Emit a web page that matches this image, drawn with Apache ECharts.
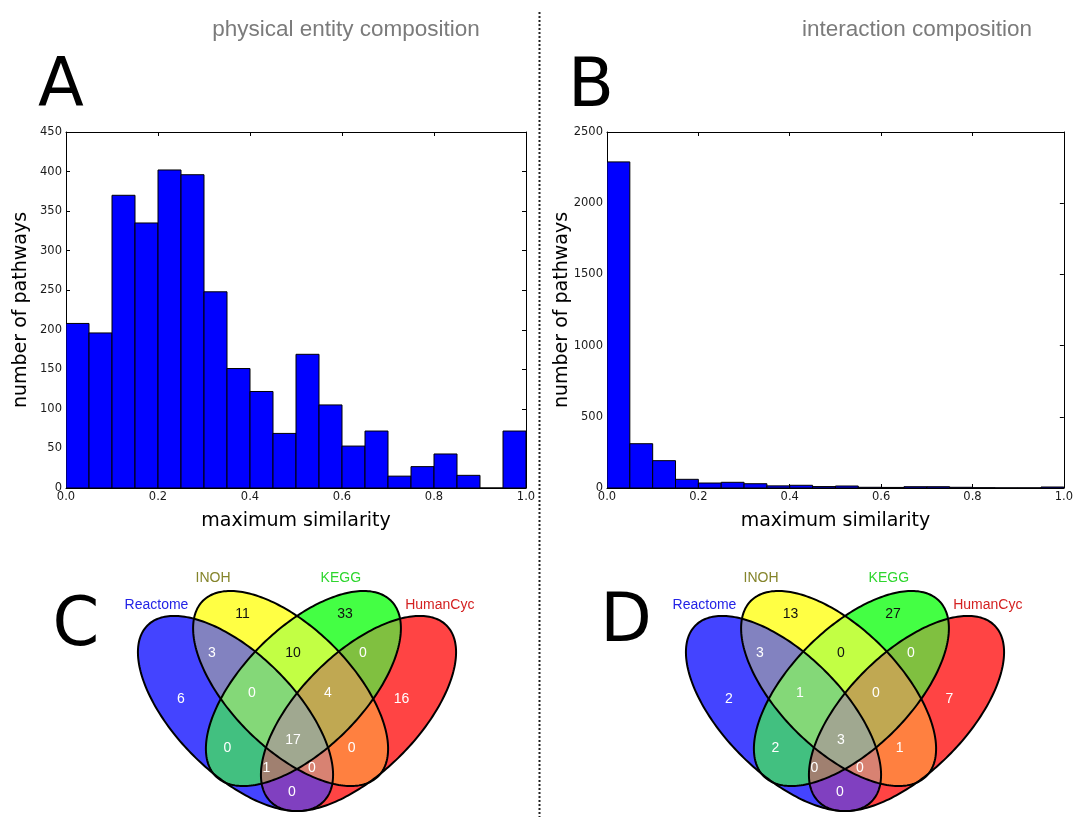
<!DOCTYPE html>
<html><head><meta charset="utf-8">
<script src="https://cdn.jsdelivr.net/npm/echarts@6/dist/echarts.min.js"></script>
<style>html,body{margin:0;padding:0;background:#fff}#c{width:1076px;height:817px}</style>
</head><body><div id="c"></div>
<script>
// ---------------- data ----------------
const binStarts = [0.00,0.05,0.10,0.15,0.20,0.25,0.30,0.35,0.40,0.45,0.50,0.55,0.60,0.65,0.70,0.75,0.80,0.85,0.90,0.95];
const binWidth = 0.05;
const physicalCounts = [208,196,370,335,402,396,248,151,122,69,169,105,53,72,15,27,43,16,0,72];
const interactionCounts = [2290,311,192,61,35,40,30,15,19,10,14,5,4,9,9,5,2,1,1,7];
const xTickValues = [0.0,0.2,0.4,0.6,0.8,1.0];
const yMaxA = 450, yStepA = 50;
const yMaxB = 2500, yStepB = 500;

const setNames = ['Reactome','INOH','KEGG','HumanCyc'];
// region masks: Reactome=1, INOH=2, KEGG=4, HumanCyc=8
const regionMasks = [1,2,4,8,3,6,12,9,5,10,7,14,11,13,15];
const countsC = [6,11,33,16,3,10,0,0,0,0,0,4,0,1,17];
const countsD = [2,13,27,7,3,0,0,0,2,1,1,0,0,0,3];

const titles = ['physical entity composition','interaction composition'];
const panelLetters = ['A','B','C','D'];

// ---------------- styling / layout ----------------
const FONT = 'DejaVu Sans';
const setLabelColors = ['#2323e6','#84842a','#2ed62e','#d42121'];
const regionColors = {
  1:'#4444ff', 2:'#ffff44', 4:'#44ff44', 8:'#ff4444',
  3:'#8282c0', 6:'#c2ff44', 12:'#80c040', 9:'#8040c0', 5:'#42c080', 10:'#ff8040',
  7:'#84d878', 14:'#c0a852', 11:'#d88272', 13:'#a08070', 15:'#a0a890'
};
const darkTextMasks = [2,4,6];
// ellipse geometry in local pixel units (y down), s = direction of major axis (1,s)
const ellipseGeom = [
  {cx:-61.5, cy:0.5,  a:124.5, b:59.5, s: 1},
  {cx:-6.4,  cy:-24.5, a:124,  b:60.3, s: 1},
  {cx: 6.4,  cy:-24.5, a:124,  b:60.3, s:-1},
  {cx: 61.5, cy:0.5,  a:124.5, b:59.5, s:-1}
];
const regionLabelPos = {
  1:[-116,-13.7], 2:[-54.5,-98.7], 4:[48,-98.7], 8:[104.5,-13.7],
  3:[-85,-60.3], 6:[-4,-60.3], 12:[66,-60.3], 9:[-5,79.3], 5:[-69.6,35.3], 10:[54.6,35.3],
  7:[-45.2,-19.7], 14:[31,-19.7], 11:[14.8,55.3], 13:[-30.5,55.3], 15:[-4,27]
};
const setLabelPos = [[-140.5,-108],[-84,-134.7],[43.8,-134.7],[142.8,-108]];

function coefs(e){
  const ia = 1/(e.a*e.a), ib = 1/(e.b*e.b);
  return {A:(ia+ib)/2, B:(ia-ib)/2};
}
function inside(e,x,y){
  const {A,B} = coefs(e);
  const dx = x-e.cx, dy = y-e.cy;
  return A*dx*dx + 2*e.s*B*dx*dy + A*dy*dy <= 1;
}
function rowInterval(e,y){
  const {A,B} = coefs(e);
  const dy = y-e.cy;
  const disc = B*B*dy*dy - A*(A*dy*dy-1);
  if (disc <= 0) return null;
  const r = Math.sqrt(disc), m = -e.s*B*dy;
  return [e.cx+(m-r)/A, e.cx+(m+r)/A];
}
function buildRuns(){
  const runs = [];
  for (let y=-150; y<104; y++){
    const yc = y+0.5, pts = [];
    ellipseGeom.forEach(e=>{const iv=rowInterval(e,yc); if(iv) pts.push(iv[0],iv[1]);});
    if (!pts.length) continue;
    pts.sort((p,q)=>p-q);
    for (let k=0;k<pts.length-1;k++){
      const x0=pts[k], x1=pts[k+1];
      if (x1-x0<1e-6) continue;
      const xm=(x0+x1)/2;
      let mask=0;
      ellipseGeom.forEach((e,i)=>{ if(inside(e,xm,yc)) mask|=(1<<i); });
      if (mask) runs.push([x0,x1,y,mask]);
    }
  }
  return runs;
}
const runs = buildRuns();

function histSeries(axisIdx, counts){
  return {
    type:'custom', xAxisIndex:axisIdx, yAxisIndex:axisIdx, silent:true, clip:true,
    data: binStarts.map((s,i)=>[s, s+binWidth, counts[i]]),
    encode:{x:[0,1], y:2},
    renderItem:(params,api)=>{
      const p0 = api.coord([api.value(0),0]);
      const p1 = api.coord([api.value(1),api.value(2)]);
      return {type:'rect', shape:{x:p0[0], y:p1[1], width:p1[0]-p0[0], height:p0[1]-p1[1]},
        style:{fill:'#0000ff', stroke:'#000', lineWidth:1}};
    }
  };
}
function vennSeries(axisIdx, counts){
  const fills = {
    type:'custom', xAxisIndex:axisIdx, yAxisIndex:axisIdx, silent:true, clip:false, progressive:0,
    data: runs, encode:{x:[0,1], y:2},
    renderItem:(params,api)=>{
      const p0 = api.coord([api.value(0), api.value(2)]);
      const p1 = api.coord([api.value(1), api.value(2)+1]);
      return {type:'rect', shape:{x:p0[0], y:p0[1], width:p1[0]-p0[0], height:p1[1]-p0[1]},
        style:{fill: regionColors[api.value(3)]}};
    }
  };
  const outlines = {
    type:'custom', xAxisIndex:axisIdx, yAxisIndex:axisIdx, silent:true, clip:false, z:3,
    data: ellipseGeom.map((e,i)=>[e.cx,e.cy,i]), encode:{x:0,y:1},
    renderItem:(params,api)=>{
      const e = ellipseGeom[api.value(2)];
      const pts = [];
      const r2 = Math.SQRT1_2;
      for (let k=0;k<240;k++){
        const t = 2*Math.PI*k/240;
        const ca = e.a*Math.cos(t), sb = e.b*Math.sin(t);
        const x = e.cx + ca*r2 + sb*(-e.s)*r2;
        const y = e.cy + ca*e.s*r2 + sb*r2;
        pts.push(api.coord([x,y]));
      }
      return {type:'polygon', shape:{points:pts}, style:{fill:'none', stroke:'#000', lineWidth:2}};
    }
  };
  const labels = {
    type:'custom', xAxisIndex:axisIdx, yAxisIndex:axisIdx, silent:true, clip:false, z:4,
    data: regionMasks.map((m,i)=>[regionLabelPos[m][0], regionLabelPos[m][1], counts[i], m]),
    encode:{x:0,y:1},
    renderItem:(params,api)=>{
      const p = api.coord([api.value(0), api.value(1)]);
      const m = api.value(3);
      return {type:'text', x:p[0], y:p[1], style:{text:String(api.value(2)),
        fill: darkTextMasks.indexOf(m)>=0 ? '#111' : '#fff',
        fontSize:14, fontFamily:'Liberation Sans',
        align:'center', verticalAlign:'middle', textAlign:'center', textVerticalAlign:'middle'}};
    }
  };
  const names = {
    type:'custom', xAxisIndex:axisIdx, yAxisIndex:axisIdx, silent:true, clip:false, z:4,
    data: setNames.map((n,i)=>[setLabelPos[i][0], setLabelPos[i][1], i]),
    encode:{x:0,y:1},
    renderItem:(params,api)=>{
      const p = api.coord([api.value(0), api.value(1)]);
      const i = api.value(2);
      return {type:'text', x:p[0], y:p[1], style:{text:setNames[i], fill:setLabelColors[i],
        fontSize:14, fontFamily:'Liberation Sans',
        align:'center', verticalAlign:'middle', textAlign:'center', textVerticalAlign:'middle'}};
    }
  };
  return [fills, outlines, labels, names];
}

function bottomX(gridIndex){
  return {type:'value', gridIndex, position:'bottom', min:0, max:1, interval:0.2,
    axisLine:{show:true, onZero:false, lineStyle:{color:'#000', width:1}},
    axisTick:{show:true, inside:true, length:4, lineStyle:{color:'#000'}},
    axisLabel:{show:true, margin:3, fontSize:11.5, color:'#1a1a1a', fontFamily:FONT,
      formatter:v=>v.toFixed(1)},
    splitLine:{show:false},
    name:'maximum similarity', nameLocation:'middle', nameGap:24, nameMoveOverlap:false,
    nameTextStyle:{fontSize:19, color:'#000', fontFamily:FONT}};
}
function topX(gridIndex){
  return {type:'value', gridIndex, position:'top', min:0, max:1, interval:0.2,
    axisLine:{show:true, onZero:false, lineStyle:{color:'#000', width:1}},
    axisTick:{show:true, inside:true, length:4, lineStyle:{color:'#000'}},
    axisLabel:{show:false}, splitLine:{show:false}};
}
function leftY(gridIndex, max, step){
  return {type:'value', gridIndex, position:'left', min:0, max, interval:step,
    axisLine:{show:true, onZero:false, lineStyle:{color:'#000', width:1}},
    axisTick:{show:true, inside:true, length:4, lineStyle:{color:'#000'}},
    axisLabel:{show:true, margin:4, fontSize:11.5, color:'#1a1a1a', fontFamily:FONT,
      formatter:v=>String(v)},
    splitLine:{show:false},
    name:'number of pathways', nameLocation:'middle', nameGap:35, nameMoveOverlap:false,
    nameTextStyle:{fontSize:19, color:'#000', fontFamily:FONT}};
}
function rightY(gridIndex, max, step){
  return {type:'value', gridIndex, position:'right', min:0, max, interval:step,
    axisLine:{show:true, onZero:false, lineStyle:{color:'#000', width:1}},
    axisTick:{show:true, inside:true, length:4, lineStyle:{color:'#000'}},
    axisLabel:{show:false}, splitLine:{show:false}};
}
function hiddenX(gridIndex){ return {type:'value', gridIndex, min:-200, max:200, show:false}; }
function hiddenY(gridIndex){ return {type:'value', gridIndex, min:-150, max:104, inverse:true, show:false}; }

const letterStyle = (t,x,y)=>({type:'text', x, y, silent:true,
  style:{text:t, fontSize:67, fontFamily:FONT, fill:'#000',
    align:'center', verticalAlign:'middle', textAlign:'center', textVerticalAlign:'middle'}});
const titleStyle = (t,x,y)=>({type:'text', x, y, silent:true,
  style:{text:t, fontSize:22.5, fontFamily:'Liberation Sans', fill:'#7b7b7b',
    align:'center', verticalAlign:'middle', textAlign:'center', textVerticalAlign:'middle'}});

const option = {
  animation:false,
  backgroundColor:'#fff',
  textStyle:{fontFamily:FONT},
  grid:[
    {left:66, top:132, width:460, height:356},
    {left:607, top:132, width:460, height:356},
    {left:97, top:563, width:400, height:254},
    {left:645, top:563, width:400, height:254}
  ],
  xAxis:[bottomX(0), topX(0), bottomX(1), topX(1), hiddenX(2), hiddenX(3)],
  yAxis:[leftY(0,yMaxA,yStepA), rightY(0,yMaxA,yStepA), leftY(1,yMaxB,yStepB), rightY(1,yMaxB,yStepB), hiddenY(2), hiddenY(3)],
  series:[
    histSeries(0, physicalCounts),
    histSeries(2, interactionCounts),
    ...vennSeries(4, countsC),
    ...vennSeries(5, countsD)
  ],
  graphic:[
    titleStyle(titles[0], 346, 30),
    titleStyle(titles[1], 917, 30),
    letterStyle(panelLetters[0], 61, 89),
    letterStyle(panelLetters[1], 591, 89),
    letterStyle(panelLetters[2], 76, 628),
    letterStyle(panelLetters[3], 626, 624),
    {type:'line', silent:true, shape:{x1:539.5, y1:12, x2:539.5, y2:817},
      style:{stroke:'#222', lineWidth:2, lineDash:[2,2]}}
  ]
};
const chart = echarts.init(document.getElementById('c'));
chart.setOption(option);
</script>
</body></html>
